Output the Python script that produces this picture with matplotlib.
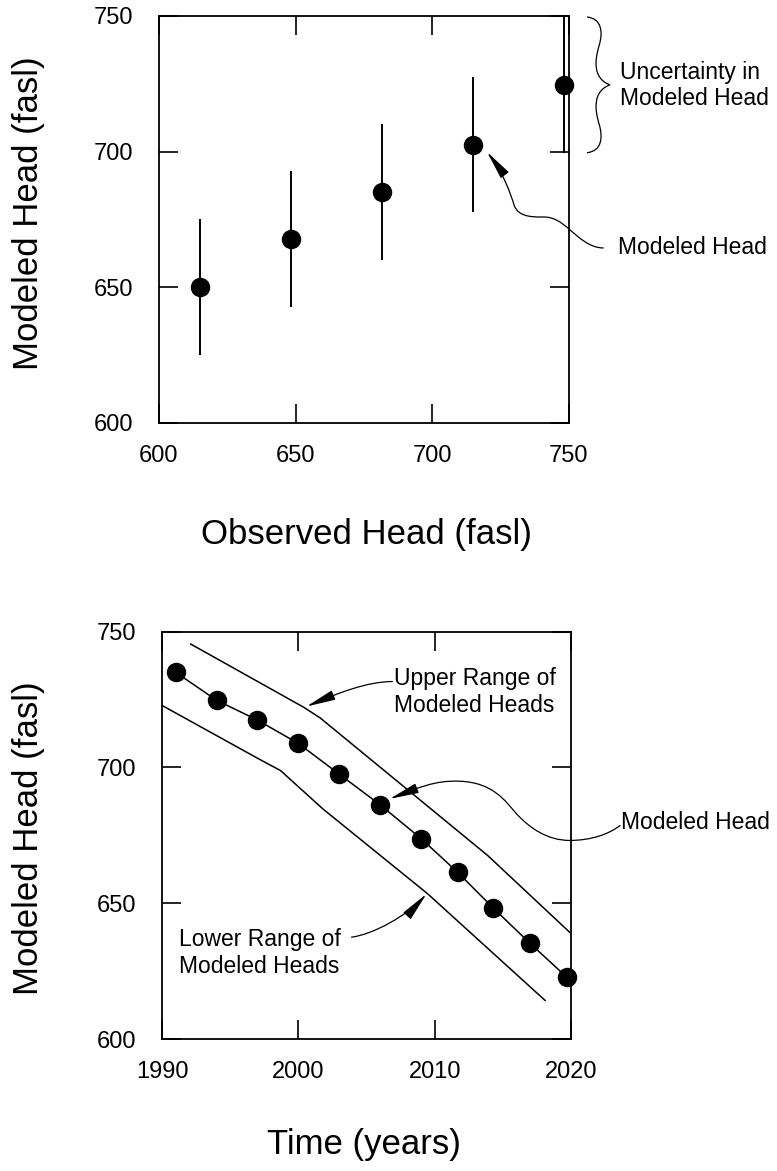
import numpy as np
import matplotlib
matplotlib.use('Agg')
import matplotlib.pyplot as plt
from matplotlib.path import Path
from matplotlib.patches import FancyArrowPatch, PathPatch

plt.rcParams['font.family'] = ['Liberation Sans', 'DejaVu Sans']

# observed vs modeled heads (feet above sea level)
observed = [615, 648.3, 681.7, 715, 748.3]
modeled = [650, 667.7, 685, 702.6, 724.6]
uncert = [25, 25, 25, 25, 25]

# modeled head through time, with the upper / lower range
years = [1991, 1994, 1997, 2000, 2003, 2006, 2009, 2011.7, 2014.3, 2017, 2019.7]
heads = [735, 724.7, 717.4, 708.8, 697.5, 686.2, 673.8, 661.3, 648.2, 635.2, 622.7]
upper_years = [1992.1, 2000.4, 2001.6, 2013.9, 2019.9]
upper_heads = [745.4, 722.1, 718.2, 667.5, 639.3]
lower_years = [1990.0, 1997.1, 1998.7, 2001.8, 2009.5, 2018.1]
lower_heads = [722.8, 703.1, 698.8, 684.7, 653.4, 614.2]

M, C = Path.MOVETO, Path.CURVE4


def bezier(pts):
    codes = [M] + [C] * (len(pts) - 1)
    return Path(pts, codes)


def curvy_arrow(ax, pts):
    p = FancyArrowPatch(path=bezier(pts), arrowstyle='-|>,head_length=1.0,head_width=0.17',
                        mutation_scale=18, lw=0.9, color='k', transform=ax.transData, clip_on=False)
    ax.add_patch(p)


def style_axes(ax):
    for s in ax.spines.values():
        s.set_linewidth(1.3)
    ax.tick_params(direction='in', length=14, width=1.2, top=True, right=True, labelsize=17)
    ax.tick_params(axis='x', pad=16)
    ax.tick_params(axis='y', pad=18.5)


fig = plt.figure(figsize=(7.77, 11.71), dpi=100)
ax1 = fig.add_axes([0.2046, 0.6388, 0.5277, 0.3476])
ax2 = fig.add_axes([0.2085, 0.1127, 0.5264, 0.348])

# top: modeled vs observed with uncertainty bars
eb = ax1.errorbar(observed, modeled, yerr=uncert, fmt='o', color='k', markersize=13,
                  elinewidth=1.4, capsize=0)
eb.lines[0].set_clip_on(False)

brace = bezier([(756.6, 749.6),
                (762, 749), (762.5, 744), (761, 739),
                (759.5, 734), (758.5, 727), (765.0, 724.6),
                (758.5, 722.2), (759.5, 715.2), (761, 710.2),
                (762.5, 705.2), (762, 700.2), (756.6, 699.6)])
ax1.add_patch(PathPatch(brace, fill=False, lw=0.9, color='k', clip_on=False))
ax1.text(768.7, 724.4, 'Uncertainty in\nModeled Head', fontsize=16.5, ha='left', va='center')

curvy_arrow(ax1, [(762.5, 664.5),
                  (757.5, 664.5), (753.5, 668.5), (750.4, 671.1),
                  (747, 674.3), (744, 676), (740.5, 675.9),
                  (735, 675.8), (731.5, 676.5), (730.0, 680.0),
                  (728.5, 685), (726, 692), (720.0, 699.9)])
ax1.text(767.9, 664.5, 'Modeled Head', fontsize=16.5, ha='left', va='center')

ax1.set_xlim(600, 750)
ax1.set_ylim(600, 750)
ax1.set_xticks([600, 650, 700, 750])
ax1.set_yticks([600, 650, 700, 750])
style_axes(ax1)
ax1.set_xlabel('Observed Head (fasl)', fontsize=25, va='center')
ax1.xaxis.set_label_coords(0.507, -0.275)
ax1.set_ylabel('Modeled Head (fasl)', fontsize=25, va='center')
ax1.yaxis.set_label_coords(-0.318, 0.516)

# bottom: modeled head over time
ax2.plot(upper_years, upper_heads, color='k', lw=1.1)
ax2.plot(lower_years, lower_heads, color='k', lw=1.1)
ax2.plot(years, heads, '-o', color='k', lw=1.1, markersize=13, clip_on=False)

curvy_arrow(ax2, [(2006.9, 731.6),
                  (2005.0, 731.5), (2003.0, 727.5), (2000.6, 722.4)])
ax2.text(2007.0, 727.7, 'Upper Range of\nModeled Heads', fontsize=16.5, ha='left', va='center')

curvy_arrow(ax2, [(2023.6, 678.6),
                  (2022.8, 675.5), (2021.5, 673.1), (2019.9, 673.1),
                  (2018.3, 673.1), (2017.0, 677.5), (2016.0, 682.9),
                  (2015.2, 687.5), (2014.3, 694.5), (2011.8, 694.9),
                  (2010.0, 695.3), (2008.7, 692.3), (2006.7, 688.4)])
ax2.text(2023.7, 679.7, 'Modeled Head', fontsize=16.5, ha='left', va='center')

curvy_arrow(ax2, [(2003.9, 637.5),
                  (2005.5, 638.5), (2008.0, 645.5), (2009.4, 653.4)])
ax2.text(1991.25, 631.7, 'Lower Range of\nModeled Heads', fontsize=16.5, ha='left', va='center')

ax2.set_xlim(1990, 2020)
ax2.set_ylim(600, 750)
ax2.set_xticks([1990, 2000, 2010, 2020])
ax2.set_yticks([600, 650, 700, 750])
style_axes(ax2)
ax2.set_xlabel('Time (years)', fontsize=25, va='center')
ax2.xaxis.set_label_coords(0.494, -0.26)
ax2.set_ylabel('Modeled Head (fasl)', fontsize=25, va='center')
ax2.yaxis.set_label_coords(-0.326, 0.494)

fig.savefig('out.png', dpi=100)
